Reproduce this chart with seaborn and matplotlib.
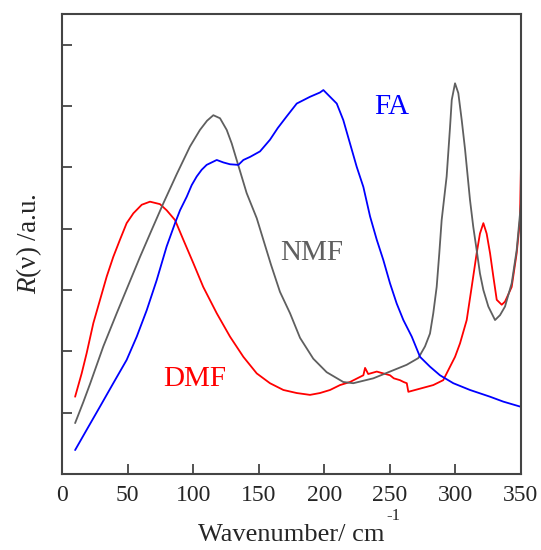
import matplotlib
matplotlib.use("Agg")
import matplotlib.pyplot as plt
import seaborn as sns
import pandas as pd

# DMF (red)
dmf_x = [10, 15.0, 18.8, 23.9, 29.0, 34.1, 39.1, 44.2, 49.3, 54.4, 60.8, 67.1, 74.7, 79.8,
         86.2, 92.5, 100.1, 107.7, 118.0, 128.1, 138.3, 148.5, 158.6, 168.8, 179.0, 189.1,
         196.7, 204.4, 212.0, 219.6, 229.8, 231.1, 233.5, 240.0, 245.0, 250.1, 253.0, 257.7,
         260.5, 262.9, 264.1, 283.1, 290.7, 293.3, 295.9, 299.7, 303.5, 308.6, 312.4, 316.2,
         318.7, 321.3, 323.8, 326.4, 328.9, 331.5, 335.3, 337.8, 342.9, 346.7, 349.2, 350.0]
dmf_y = [1.26, 1.64, 1.97, 2.46, 2.84, 3.22, 3.54, 3.82, 4.09, 4.25, 4.39, 4.44, 4.40, 4.30,
         4.14, 3.82, 3.44, 3.05, 2.62, 2.24, 1.91, 1.64, 1.48, 1.37, 1.32, 1.29,
         1.32, 1.37, 1.45, 1.50, 1.61, 1.73, 1.63, 1.67, 1.64, 1.61, 1.56, 1.53,
         1.50, 1.48, 1.34, 1.45, 1.53, 1.64, 1.75, 1.91, 2.13, 2.51, 3.05, 3.60,
         3.92, 4.09, 3.92, 3.60, 3.22, 2.84, 2.76, 2.81, 3.05, 3.60, 4.14, 5.07]

# NMF (gray)
nmf_x = [10, 16.2, 21.4, 31.5, 41.7, 50.6, 59.5, 68.4, 77.2, 87.5, 97.6, 105.2, 110.6, 115.4,
         120.5, 125.6, 129.4, 133.2, 137.0, 140.8, 148.5, 154.8, 159.4, 166.2, 173.9, 181.5,
         191.6, 201.8, 214.5, 222.1, 237.4, 250.1, 262.8, 271.7, 276.8, 280.6, 283.1,
         285.7, 287.7, 289.5, 293.3, 295.9, 297.2, 299.7, 302.2, 304.8, 307.3, 311.1, 313.6,
         316.2, 318.7, 321.3, 325.1, 330.2, 334.0, 337.8, 342.9, 346.7, 350.0]
nmf_y = [0.83, 1.17, 1.47, 2.08, 2.62, 3.08, 3.54, 3.98, 4.41, 4.89, 5.34, 5.61, 5.76, 5.85,
         5.80, 5.61, 5.39, 5.12, 4.85, 4.58, 4.17, 3.73, 3.41, 2.97, 2.62, 2.22,
         1.88, 1.66, 1.50, 1.48, 1.56, 1.67, 1.78, 1.89, 2.08, 2.29, 2.62,
         3.05, 3.60, 4.14, 4.85, 5.66, 6.10, 6.37, 6.21, 5.77, 5.30, 4.47, 4.03,
         3.65, 3.27, 3.00, 2.73, 2.51, 2.59, 2.73, 3.11, 3.65, 4.42]

# FA (blue)
fa_x = [10, 18.8, 29.0, 39.1, 49.3, 57.0, 64.6, 72.2, 79.8, 86.2, 90.0, 95.1, 98.9, 102.7,
        106.5, 110.3, 118.0, 123.0, 128.1, 134.5, 138.3, 143.4, 151.0, 158.6, 164.5, 171.3,
        179.0, 189.1, 196.7, 199.3, 204.4, 209.5, 214.5, 219.6, 224.7, 229.8, 234.9, 240.0,
        245.0, 250.1, 255.2, 260.3, 266.7, 273.0, 280.6, 288.2, 298.4, 311.1, 326.4, 336.5,
        349.2]
fa_y = [0.39, 0.72, 1.10, 1.48, 1.86, 2.24, 2.67, 3.16, 3.71, 4.09, 4.30, 4.52, 4.71, 4.85,
        4.96, 5.04, 5.12, 5.08, 5.05, 5.04, 5.12, 5.17, 5.26, 5.45, 5.64, 5.83,
        6.04, 6.15, 6.22, 6.26, 6.15, 6.04, 5.77, 5.39, 5.01, 4.68, 4.20, 3.82,
        3.49, 3.11, 2.78, 2.51, 2.24, 1.91, 1.75, 1.61, 1.48, 1.37, 1.26, 1.18,
        1.10]

x_ticks = [0, 50, 100, 150, 200, 250, 300, 350]
y_ticks = [1, 2, 3, 4, 5, 6, 7]

sns.set_style("white")
plt.rcParams["font.family"] = ["Liberation Serif", "DejaVu Serif"]
plt.rcParams["mathtext.fontset"] = "custom"
plt.rcParams["mathtext.rm"] = "Liberation Serif"
plt.rcParams["mathtext.it"] = "Liberation Serif:italic"

fig = plt.figure(figsize=(5.41, 5.50), dpi=100)
ax = fig.add_axes([62 / 541, 76 / 550, 459 / 541, 460 / 550])

lw = 1.3
sns.lineplot(data=pd.DataFrame({"x": dmf_x, "y": dmf_y}), x="x", y="y", color="#ff0000",
             lw=lw, ax=ax, sort=False, estimator=None)
sns.lineplot(data=pd.DataFrame({"x": nmf_x, "y": nmf_y}), x="x", y="y", color="#5f5f5f",
             lw=lw, ax=ax, sort=False, estimator=None)
sns.lineplot(data=pd.DataFrame({"x": fa_x, "y": fa_y}), x="x", y="y", color="#0000ff",
             lw=lw, ax=ax, sort=False, estimator=None)

ax.set_xlim(0, 350)
ax.set_ylim(0, 7.5)
ax.set_xticks(x_ticks)
ax.set_xticklabels([str(t) for t in x_ticks], fontsize=17)
ax.set_yticks(y_ticks)
ax.set_yticklabels([])
ax.tick_params(axis="both", direction="in", length=7, width=1.3, color="#444444",
               bottom=True, left=True, top=False, right=False, pad=8)
for s in ax.spines.values():
    s.set_color("#444444")
    s.set_linewidth(1.5)

ax.set_xlabel("")
ax.set_ylabel(r"$R$(ν) /a.u.", fontsize=19.5)
ax.yaxis.set_label_coords(-0.039, 0.5)

fig.text(291 / 541, 1 - 535 / 550, "Wavenumber/ cm", fontsize=19, ha="center", va="center")
fig.text(393 / 541, 1 - 516 / 550, "-1", fontsize=12, ha="center", va="center")

ax.text(251.6, 5.98, "FA", color="#0000ff", fontsize=21, ha="center", va="center")
ax.text(190.5, 3.6, "NMF", color="#5f5f5f", fontsize=21, ha="center", va="center")
ax.text(101.5, 1.55, "DMF", color="#ff0000", fontsize=21, ha="center", va="center")

fig.savefig("out.png", dpi=100)
